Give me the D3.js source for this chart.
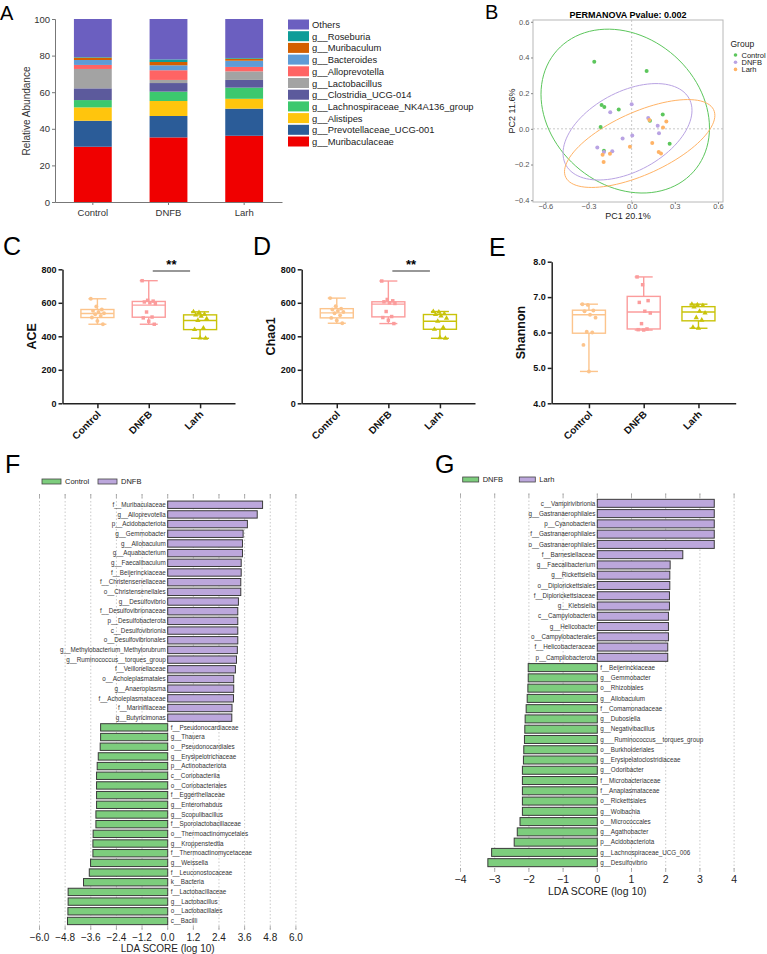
<!DOCTYPE html>
<html>
<head>
<meta charset="utf-8">
<script src="https://cdn.jsdelivr.net/npm/d3@7"></script>
<style>
  body { margin: 0; background: #fff; }
  svg { font-family: "Liberation Sans", Arial, sans-serif; }
</style>
</head>
<body>
<svg id="fig" width="767" height="954"></svg>
<script>
// ---------------- data ----------------
const groups = ['Control', 'DNFB', 'Larh'];

// A: stacked relative abundance (bottom -> top)
const taxa = ['g__Muribaculaceae', 'g__Prevotellaceae_UCG-001', 'g__Alistipes',
  'g__Lachnospiraceae_NK4A136_group', 'g__Clostridia_UCG-014', 'g__Lactobacillus',
  'g__Alloprevotella', 'g__Bacteroides', 'g__Muribaculum', 'g__Roseburia', 'Others'];
const taxaColors = ['#f00000', '#2b5c98', '#ffc50d', '#3cc86e', '#5c5a9c', '#a3a3a3',
  '#ff6464', '#5e9bd6', '#d35f00', '#0e9c98', '#6b5fc0'];
const abundControl = [30.2, 14.2, 7.3, 4.0, 6.4, 10.6, 2.2, 2.7, 1.3, 0.3, 20.8];
const abundDNFB = [35.3, 11.7, 8.2, 5.1, 4.7, 1.7, 5.3, 2.7, 1.8, 1.4, 22.1];
const abundLarh = [36.2, 14.8, 5.4, 6.1, 4.2, 4.7, 2.4, 3.4, 1.1, 0.4, 21.3];

// B: PCoA points [PC1, PC2]
const pcoaControl = [[-0.26, 0.376], [0.104, 0.324], [-0.209, 0.134], [-0.19, 0.123], [-0.09, 0.108],
  [-0.216, 0.011], [0.216, 0.08], [0.127, 0.046], [0.264, -0.084], [-0.193, -0.123]];
const pcoaDNFB = [[0.0, 0.138], [-0.149, 0.093], [0.115, 0.061], [0.181, 0.017], [0.19, -0.024],
  [0.004, -0.037], [-0.063, -0.054], [-0.239, -0.104], [-0.193, -0.13], [-0.135, -0.125]];
const pcoaLarh = [[0.123, 0.049], [0.241, 0.041], [0.218, 0.007], [-0.012, -0.1], [0.143, -0.08],
  [0.188, -0.13], [0.204, -0.138], [-0.202, -0.145], [-0.151, -0.14], [-0.195, -0.186]];
const groupColors = ['#5cc65c', '#b9a3e3', '#ffb366'];

// C-E: alpha diversity, box = [min, q1, median, q3, max]
const aceBox = [[472, 512, 536, 560, 624], [472, 514, 586, 608, 732], [388, 440, 494, 528, 546]];
const acePoints = [
  [624, 578, 560, 552, 545, 538, 532, 522, 512, 492, 472],
  [732, 615, 610, 605, 600, 595, 545, 515, 510, 490, 472],
  [546, 542, 532, 528, 520, 505, 495, 450, 440, 390, 388]];
const chaoBox = [[478, 510, 540, 565, 628], [476, 516, 592, 606, 730], [388, 442, 490, 530, 548]];
const chaoPoints = [
  [628, 580, 565, 560, 552, 545, 538, 525, 510, 495, 478],
  [730, 620, 612, 606, 600, 596, 548, 518, 512, 496, 476],
  [548, 545, 535, 530, 522, 508, 490, 452, 442, 392, 388]];
const shannonBox = [[4.9, 5.98, 6.5, 6.63, 6.8], [6.07, 6.1, 6.58, 7.02, 7.57], [6.12, 6.33, 6.58, 6.73, 6.8]];
const shannonPoints = [
  [6.8, 6.78, 6.62, 6.6, 6.5, 6.42, 6.02, 6.0, 5.65, 4.9],
  [7.57, 7.35, 6.9, 6.85, 6.6, 6.55, 6.25, 6.1, 6.08, 6.07],
  [6.8, 6.78, 6.76, 6.72, 6.6, 6.55, 6.42, 6.35, 6.15, 6.12]];
const boxColors = ['#fcc48c', '#fb9c9c', '#c9c30a'];

// F: LEfSe Control vs DNFB
const fNames = ['f__Muribaculaceae', 'g__Alloprevotella', 'p__Acidobacteriota', 'g__Gemmobacter',
  'g__Allobaculum', 'g__Aquabacterium', 'g__Faecalibaculum', 'f__Beijerinckiaceae',
  'f__Christensenellaceae', 'o__Christensenellales', 'g__Desulfovibrio', 'f__Desulfovibrionaceae',
  'p__Desulfobacterota', 'c__Desulfovibrionia', 'o__Desulfovibrionales',
  'g__Methylobacterium_Methylorubrum', 'g__Ruminococcus__torques_group', 'f__Veillonellaceae',
  'o__Acholeplasmatales', 'g__Anaeroplasma', 'f__Acholeplasmataceae', 'f__Marinifilaceae',
  'g__Butyricimonas', 'f__Pseudonocardiaceae', 'g__Thauera', 'o__Pseudonocardiales',
  'g__Erysipelotrichaceae', 'p__Actinobacteriota', 'c__Coriobacteriia', 'o__Coriobacteriales',
  'f__Eggerthellaceae', 'g__Enterorhabdus', 'g__Scopulibacillus', 'f__Sporolactobacillaceae',
  'o__Thermoactinomycetales', 'g__Kroppenstedtia', 'f__Thermoactinomycetaceae', 'g__Weissella',
  'f__Leuconostocaceae', 'k__Bacteria', 'f__Lactobacillaceae', 'g__Lactobacillus',
  'o__Lactobacillales', 'c__Bacilli'];
const fScores = [4.44, 4.19, 3.73, 3.53, 3.50, 3.50, 3.44, 3.44, 3.42, 3.42, 3.31, 3.28, 3.28,
  3.28, 3.28, 3.26, 3.22, 3.17, 3.09, 3.09, 3.08, 3.01, 3.00,
  -3.14, -3.14, -3.16, -3.25, -3.30, -3.33, -3.33, -3.33, -3.33, -3.36, -3.36, -3.49, -3.50,
  -3.50, -3.61, -3.67, -3.94, -4.66, -4.66, -4.67, -4.69];
const fTicks = [-6, -4.8, -3.6, -2.4, -1.2, 0, 1.2, 2.4, 3.6, 4.8, 6];

// G: LEfSe DNFB vs Larh
const gNames = ['c__Vampirivibrionia', 'g__Gastranaerophilales', 'p__Cyanobacteria',
  'f__Gastranaerophilales', 'o__Gastranaerophilales', 'f__Barnesiellaceae', 'g__Faecalibacterium',
  'g__Rickettsiella', 'o__Diplorickettsiales', 'f__Diplorickettsiaceae', 'g__Klebsiella',
  'c__Campylobacteria', 'g__Helicobacter', 'o__Campylobacterales', 'f__Helicobacteraceae',
  'p__Campilobacterota', 'f__Beijerinckiaceae', 'g__Gemmobacter', 'o__Rhizobiales',
  'g__Allobaculum', 'f__Comamonadaceae', 'g__Dubosiella', 'g__Negativibacillus',
  'g___Ruminococcus__torques_group', 'o__Burkholderiales', 'g__Erysipelatoclostridiaceae',
  'g__Odoribacter', 'f__Microbacteriaceae', 'f__Anaplasmataceae', 'o__Rickettsiales',
  'g__Wolbachia', 'o__Micrococcales', 'g__Agathobacter', 'p__Acidobacteriota',
  'g__Lachnospiraceae_UCG_006', 'g__Desulfovibrio'];
const gScores = [3.42, 3.42, 3.42, 3.42, 3.42, 2.50, 2.13, 2.12, 2.12, 2.11, 2.11, 2.08, 2.08,
  2.08, 2.06, 2.06,
  -2.02, -2.02, -2.03, -2.05, -2.08, -2.11, -2.12, -2.13, -2.15, -2.16, -2.19, -2.19, -2.19,
  -2.19, -2.19, -2.26, -2.34, -2.43, -3.09, -3.20];
const gTicks = [-4, -3, -2, -1, 0, 1, 2, 3, 4];

// ---------------- drawing ----------------
const svg = d3.select('#fig');
svg.append('rect').attr('width', 767).attr('height', 954).attr('fill', '#fff');

// panel letters
const letters = [['A', 0, 19.5, 20], ['B', 485, 18.5, 20], ['C', 3, 255, 25], ['D', 253, 255, 25],
  ['E', 489, 256, 25], ['F', 5, 473, 25], ['G', 435, 473, 25]];
svg.selectAll('text.letter').data(letters).join('text')
  .attr('class', 'letter')
  .attr('x', d => d[1]).attr('y', d => d[2])
  .attr('font-size', d => d[3])
  .text(d => d[0]);

// ---------- A ----------
{
  const g = svg.append('g');
  const x = d3.scaleBand().domain(groups).range([55, 282]).paddingInner(0.5).paddingOuter(0.25);
  const y = d3.scaleLinear().domain([0, 100]).range([202, 19]);
  const abund = [abundControl, abundDNFB, abundLarh];
  const rows = groups.map((grp, gi) => {
    const r = { group: grp };
    taxa.forEach((t, i) => r[t] = abund[gi][i]);
    return r;
  });
  const series = d3.stack().keys(taxa)(rows);

  g.selectAll('g.layer').data(series).join('g')
    .attr('fill', d => taxaColors[d.index])
    .selectAll('rect').data(d => d).join('rect')
    .attr('x', d => x(d.data.group))
    .attr('width', x.bandwidth())
    .attr('y', d => y(d[1]))
    .attr('height', d => y(d[0]) - y(d[1]));

  const yAxis = g.append('g').attr('transform', 'translate(55,0)')
    .call(d3.axisLeft(y).tickValues([0, 20, 40, 60, 80, 100]).tickSize(3).tickPadding(2));
  const xAxis = g.append('g').attr('transform', 'translate(0,202)')
    .call(d3.axisBottom(x).tickSize(3).tickSizeOuter(0).tickPadding(4));
  [yAxis, xAxis].forEach(a => {
    a.selectAll('path,line').attr('stroke', '#777');
    a.selectAll('text').attr('font-size', 9.5).attr('fill', '#333')
      .attr('font-family', '"Liberation Sans", Arial, sans-serif');
  });

  g.append('text')
    .attr('transform', 'translate(30,111) rotate(-90)')
    .attr('text-anchor', 'middle').attr('font-size', 10).attr('fill', '#333')
    .text('Relative Abundance');

  const legendItems = taxa.map((t, i) => ({ t, c: taxaColors[i] })).reverse();
  const lg = g.selectAll('g.leg').data(legendItems).join('g')
    .attr('transform', (d, i) => `translate(288,${19.5 + i * 11.7})`);
  lg.append('rect').attr('width', 21).attr('height', 10).attr('fill', d => d.c);
  lg.append('text').attr('x', 24).attr('y', 8.5).attr('font-size', 9.4).attr('fill', '#222')
    .text(d => d.t);
}

// ---------- B ----------
{
  const g = svg.append('g');
  const x = d3.scaleLinear().domain([-0.686, 0.635]).range([533, 723]);
  const y = d3.scaleLinear().domain([-0.41, 0.61]).range([202, 20]);
  const [x0, x1] = x.range();
  const [y0, y1] = y.range();

  g.append('line').attr('x1', x(0)).attr('x2', x(0)).attr('y1', y1).attr('y2', y0)
    .attr('stroke', '#c8c8c8').attr('stroke-dasharray', '2,2');
  g.append('line').attr('x1', x0).attr('x2', x1).attr('y1', y(0)).attr('y2', y(0))
    .attr('stroke', '#c8c8c8').attr('stroke-dasharray', '2,2');

  const sets = [pcoaControl, pcoaDNFB, pcoaLarh];
  // 95% normal-theory ellipse, like stat_ellipse
  const ellipse = pts => {
    const n = pts.length;
    const mx = d3.mean(pts, d => d[0]), my = d3.mean(pts, d => d[1]);
    let sxx = 0, syy = 0, sxy = 0;
    pts.forEach(([a, b]) => { sxx += (a - mx) ** 2; syy += (b - my) ** 2; sxy += (a - mx) * (b - my); });
    sxx /= n - 1; syy /= n - 1; sxy /= n - 1;
    const dfd = n - 1;
    const fq = dfd / 2 * (Math.pow(0.05, -2 / dfd) - 1);
    const r = Math.sqrt(2 * fq);
    const l11 = Math.sqrt(sxx), l21 = sxy / l11, l22 = Math.sqrt(syy - l21 * l21);
    return d3.range(0, 100).map(i => {
      const t = i / 100 * 2 * Math.PI;
      const c = Math.cos(t), s = Math.sin(t);
      return [mx + r * l11 * c, my + r * (l21 * c + l22 * s)];
    });
  };
  const line = d3.line().x(d => x(d[0])).y(d => y(d[1])).curve(d3.curveLinearClosed);
  g.selectAll('path.ell').data(sets).join('path')
    .attr('d', d => line(ellipse(d)))
    .attr('fill', 'none')
    .attr('stroke', (d, i) => groupColors[i])
    .attr('stroke-width', 1);

  sets.forEach((pts, i) => {
    g.selectAll(null).data(pts).join('circle')
      .attr('cx', d => x(d[0])).attr('cy', d => y(d[1])).attr('r', 2)
      .attr('fill', groupColors[i]);
  });

  g.append('rect').attr('x', x0).attr('y', y1).attr('width', x1 - x0).attr('height', y0 - y1)
    .attr('fill', 'none').attr('stroke', '#b8b8b8').attr('stroke-width', 1);

  const yAxis = g.append('g').attr('transform', `translate(${x0},0)`)
    .call(d3.axisLeft(y).tickValues([-0.4, -0.2, 0, 0.2, 0.4, 0.6]).tickFormat(d3.format('.1f')).tickSize(2).tickPadding(1.5));
  const xAxis = g.append('g').attr('transform', `translate(0,${y0})`)
    .call(d3.axisBottom(x).tickValues([-0.6, -0.3, 0, 0.3, 0.6]).tickFormat(d3.format('.1f')).tickSize(2).tickPadding(0));
  [yAxis, xAxis].forEach(a => {
    a.select('.domain').remove();
    a.selectAll('line').attr('stroke', '#888');
    a.selectAll('text').attr('font-size', 7.5).attr('fill', '#555')
      .attr('font-family', '"Liberation Sans", Arial, sans-serif');
  });

  g.append('text').attr('x', (x0 + x1) / 2).attr('y', 219).attr('text-anchor', 'middle')
    .attr('font-size', 9).attr('fill', '#222').text('PC1 20.1%');
  g.append('text').attr('transform', `translate(514.5,${(y0 + y1) / 2}) rotate(-90)`)
    .attr('text-anchor', 'middle').attr('font-size', 9).attr('fill', '#222').text('PC2 11.6%');
  g.append('text').attr('x', 628).attr('y', 17.5).attr('text-anchor', 'middle')
    .attr('font-size', 9).attr('font-weight', 'bold').text('PERMANOVA Pvalue: 0.002');

  g.append('text').attr('x', 730.5).attr('y', 46.5).attr('font-size', 8.5).attr('fill', '#222').text('Group');
  const lg = g.selectAll('g.leg').data(groups).join('g')
    .attr('transform', (d, i) => `translate(735.5,${55 + i * 7.2})`);
  lg.append('circle').attr('r', 1.8).attr('fill', (d, i) => groupColors[i]);
  lg.append('text').attr('x', 6).attr('y', 2.8).attr('font-size', 7.5).attr('fill', '#222').text(d => d);
}

// ---------- C, D, E ----------
function alphaPanel(cfg) {
  const g = svg.append('g');
  const x = d3.scalePoint().domain(groups).range([cfg.x0, cfg.x1]).padding(0.68);
  const y = d3.scaleLinear().domain(cfg.domain).range([403.3, cfg.top]);
  const boxW = 33, capW = 18;
  const symbols = [d3.symbolCircle, d3.symbolSquare, d3.symbolTriangle];

  groups.forEach((grp, i) => {
    const [mn, q1, md, q3, mx] = cfg.box[i];
    const cx = x(grp);
    const col = boxColors[i];
    const bg = g.append('g').attr('stroke', col).attr('stroke-width', 1.4).attr('fill', 'none');
    bg.append('line').attr('x1', cx).attr('x2', cx).attr('y1', y(mx)).attr('y2', y(q3));
    bg.append('line').attr('x1', cx).attr('x2', cx).attr('y1', y(q1)).attr('y2', y(mn));
    bg.append('line').attr('x1', cx - capW / 2).attr('x2', cx + capW / 2).attr('y1', y(mx)).attr('y2', y(mx));
    bg.append('line').attr('x1', cx - capW / 2).attr('x2', cx + capW / 2).attr('y1', y(mn)).attr('y2', y(mn));
    bg.append('rect').attr('x', cx - boxW / 2).attr('width', boxW)
      .attr('y', y(q3)).attr('height', y(q1) - y(q3)).attr('fill', '#fff');
    bg.append('line').attr('x1', cx - boxW / 2).attr('x2', cx + boxW / 2).attr('y1', y(md)).attr('y2', y(md));

    g.selectAll(null).data(cfg.points[i]).join('path')
      .attr('transform', (d, j) => `translate(${cx + ((j * 5) % 13 - 6) * 1.1},${y(d)})`)
      .attr('d', d3.symbol().type(symbols[i]).size(12))
      .attr('fill', col);
  });

  const yAxis = g.append('g').attr('transform', `translate(${cfg.x0},0)`)
    .call(d3.axisLeft(y).tickValues(cfg.ticks).tickSize(4).tickSizeOuter(0).tickPadding(2));
  const xAxis = g.append('g').attr('transform', 'translate(0,403.3)')
    .call(d3.axisBottom(x).tickSize(5).tickSizeOuter(0).tickFormat(''));
  [yAxis, xAxis].forEach(a => {
    a.selectAll('path,line').attr('stroke', '#222').attr('stroke-width', 1.5);
  });
  yAxis.selectAll('text').attr('font-size', 9).attr('font-weight', 'bold').attr('fill', '#111')
    .attr('font-family', '"Liberation Sans", Arial, sans-serif');

  g.selectAll(null).data(groups).join('text')
    .attr('transform', d => `translate(${x(d) + 4},${415}) rotate(-45)`)
    .attr('text-anchor', 'end').attr('font-size', 10).attr('font-weight', 'bold').attr('fill', '#111')
    .text(d => d);

  g.append('text')
    .attr('transform', `translate(${cfg.x0 - 27},${(403.3 + cfg.top) / 2}) rotate(-90)`)
    .attr('text-anchor', 'middle').attr('font-size', 12.5).attr('font-weight', 'bold').attr('fill', '#111')
    .text(cfg.title);

  if (cfg.sig) {
    const ys = y(cfg.sig);
    const xa = x('DNFB') + 4, xb = x('Larh') - 10;
    g.append('line').attr('x1', xa).attr('x2', xb).attr('y1', ys).attr('y2', ys)
      .attr('stroke', '#333').attr('stroke-width', 1.2);
    g.append('text').attr('x', (xa + xb) / 2).attr('y', ys - 1.5).attr('text-anchor', 'middle')
      .attr('font-size', 13).attr('font-weight', 'bold').text('**');
  }
}
alphaPanel({ x0: 62.5, x1: 235, top: 269.3, domain: [0, 800], ticks: [0, 200, 400, 600, 800],
  box: aceBox, points: acePoints, title: 'ACE', sig: 790 });
alphaPanel({ x0: 301.7, x1: 475, top: 269.3, domain: [0, 800], ticks: [0, 200, 400, 600, 800],
  box: chaoBox, points: chaoPoints, title: 'Chao1', sig: 790 });
alphaPanel({ x0: 551.7, x1: 735.7, top: 261.7, domain: [4, 8], ticks: [4, 5, 6, 7, 8],
  box: shannonBox, points: shannonPoints, title: 'Shannon' });

// ---------- F, G ----------
function ldaPanel(cfg) {
  const g = svg.append('g');
  const x = d3.scaleLinear().domain(cfg.domain).range(cfg.xr);
  const y = d3.scaleBand().domain(cfg.names).range(cfg.yr).paddingInner(cfg.pad).paddingOuter(cfg.pad / 2);
  const green = '#7dcd7d', purple = '#bca7dc';

  g.selectAll('line.grid').data(cfg.ticks).join('line')
    .attr('x1', d => x(d)).attr('x2', d => x(d))
    .attr('y1', cfg.gridTop).attr('y2', cfg.gridBottom)
    .attr('stroke', '#bdbdbd').attr('stroke-width', 0.8).attr('stroke-dasharray', '1.5,2');
  g.selectAll('line.tt').data(cfg.ticks).join('line')
    .attr('x1', d => x(d)).attr('x2', d => x(d))
    .attr('y1', cfg.gridTop).attr('y2', cfg.gridTop + 4)
    .attr('stroke', '#999').attr('stroke-width', 0.8);
  g.selectAll('line.tb').data(cfg.ticks).join('line')
    .attr('x1', d => x(d)).attr('x2', d => x(d))
    .attr('y1', cfg.gridBottom - 3).attr('y2', cfg.gridBottom + 1)
    .attr('stroke', '#999').attr('stroke-width', 0.8);

  g.selectAll('rect.bar').data(cfg.names).join('rect')
    .attr('x', (d, i) => x(Math.min(0, cfg.scores[i])))
    .attr('width', (d, i) => Math.abs(x(cfg.scores[i]) - x(0)))
    .attr('y', d => y(d)).attr('height', y.bandwidth())
    .attr('fill', (d, i) => cfg.scores[i] > 0 ? purple : green)
    .attr('stroke', '#3a3a3a').attr('stroke-width', 1);

  g.selectAll('text.lab').data(cfg.names).join('text')
    .attr('x', (d, i) => cfg.scores[i] > 0 ? x(0) - 2 : x(0) + 3)
    .attr('y', d => y(d) + y.bandwidth() / 2 + 2.2)
    .attr('text-anchor', (d, i) => cfg.scores[i] > 0 ? 'end' : 'start')
    .attr('font-size', 6.3).attr('fill', '#333')
    .text(d => d);

  g.selectAll('text.tick').data(cfg.ticks).join('text')
    .attr('x', d => x(d)).attr('y', cfg.tickY)
    .attr('text-anchor', 'middle').attr('font-size', cfg.tickFont).attr('fill', '#222')
    .text(cfg.fmt);
  g.append('text').attr('x', x(0)).attr('y', cfg.titleY).attr('text-anchor', 'middle')
    .attr('font-size', cfg.titleFont).attr('fill', '#222').text('LDA SCORE (log 10)');

  const lg = g.selectAll('g.leg').data(cfg.legend).join('g')
    .attr('transform', (d, i) => `translate(${cfg.legendX[i]},${cfg.legendY})`);
  lg.append('rect').attr('width', cfg.legendW).attr('height', 5).attr('y', -2.5)
    .attr('fill', (d, i) => i === 0 ? green : purple).attr('stroke', '#444').attr('stroke-width', 0.8);
  lg.append('text').attr('x', cfg.legendW + 4).attr('y', 2.6).attr('font-size', 7.5).attr('fill', '#222')
    .text(d => d);
}
ldaPanel({ names: fNames, scores: fScores, ticks: fTicks, domain: [-6, 6], xr: [39.5, 295.9],
  yr: [499.9, 925.8], pad: 0.24, gridTop: 494, gridBottom: 929, tickY: 940.5, tickFont: 10,
  titleY: 951.5, titleFont: 10, fmt: d3.format('.1f'),
  legend: ['Control', 'DNFB'], legendX: [42, 98], legendY: 481.5, legendW: 19 });
ldaPanel({ names: gNames, scores: gScores, ticks: gTicks, domain: [-4, 4], xr: [460.5, 734.1],
  yr: [498.2, 867.8], pad: 0.22, gridTop: 493.5, gridBottom: 871, tickY: 883, tickFont: 10.5,
  titleY: 894.5, titleFont: 10.5, fmt: d3.format('d'),
  legend: ['DNFB', 'Larh'], legendX: [462.7, 519.3], legendY: 479.5, legendW: 16 });
</script>
</body>
</html>
